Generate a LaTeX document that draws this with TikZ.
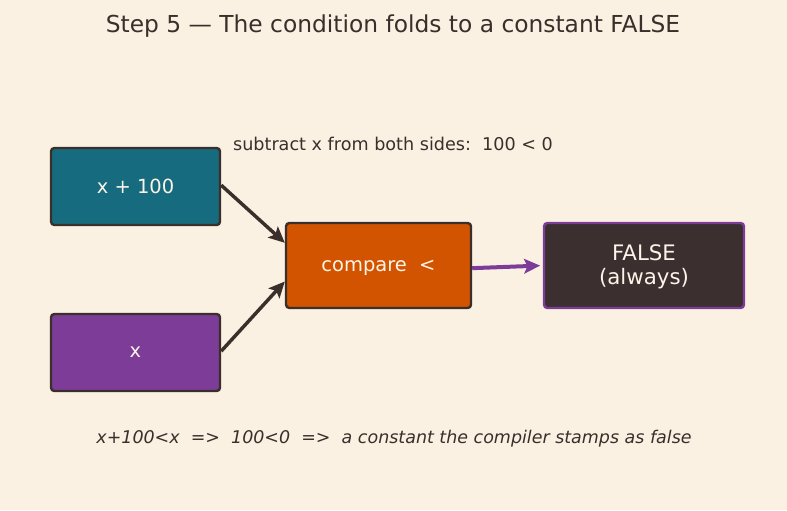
\documentclass[tikz,border=0pt]{standalone}
\usepackage{fontspec}
\setmainfont{DejaVu Sans}
\definecolor{paper}{RGB}{250,241,227}
\definecolor{ink}{RGB}{58,47,42}
\definecolor{teal}{RGB}{22,107,126}
\definecolor{plum}{RGB}{125,60,152}
\definecolor{rust}{RGB}{211,84,0}
\definecolor{night}{RGB}{59,47,47}
\definecolor{cream}{RGB}{252,244,232}
\usetikzlibrary{arrows.meta,positioning}

\begin{document}
\begin{tikzpicture}[x=0.75pt, y=-0.75pt,
    box/.style={draw=ink, line width=1.8pt, rounded corners=2.5pt, text=cream,
      font=\fontsize{14.6}{17}\selectfont, align=center, inner sep=0pt},
    flow/.style={draw=ink, line width=2.6pt, -{Stealth[length=12pt,width=11pt,inset=2.5pt]}}]
        \fill[paper] (0,0) rectangle (787,510);
        \node[ink, font=\fontsize{17.5}{20}\selectfont] (title) at (393,26) {Step 5 — The condition folds to a constant FALSE};
        \node[ink, font=\fontsize{13.2}{15}\selectfont] (note) at (393,144) {subtract x from both sides:\ \ 100 < 0};
        % operands and the folded result
        \node[box, fill=teal, minimum width=126.75pt, minimum height=57.75pt] (lhs) at (135.5,186.5) {x + 100};
        \node[box, fill=plum, minimum width=126.75pt, minimum height=57.75pt] (rhs) at (135.5,352.5) {x};
        \node[box, fill=rust, minimum width=138.75pt, minimum height=63.75pt] (cmp) at (378.5,265.5) {\raisebox{-4.5pt}[0pt][0pt]{compare\ \ <}};
        \node[box, fill=night, draw=plum, minimum width=150pt, minimum height=63.75pt,
          font=\fontsize{16}{17.5}\selectfont] (res) at (644,265.5)
          {\raisebox{-6pt}[0pt][0pt]{\begin{tabular}{@{}c@{}}FALSE\\(always)\end{tabular}}};
        \draw[flow] ([yshift=1pt]lhs.east) -- ([yshift=17pt]cmp.west);
        \draw[flow] ([yshift=1pt]rhs.east) -- ([yshift=-12pt]cmp.west);
        \draw[flow, draw=plum, line width=3pt, shorten >=2pt] ([yshift=-2pt]cmp.east) -- (res.west);
        \node[ink, font=\fontsize{13.1}{15}\selectfont\itshape] (rule) at (394,439) {x+100<x\ \ =>\ \ 100<0\ \ =>\ \ a constant the compiler stamps as false};
      \end{tikzpicture}
\end{document}
